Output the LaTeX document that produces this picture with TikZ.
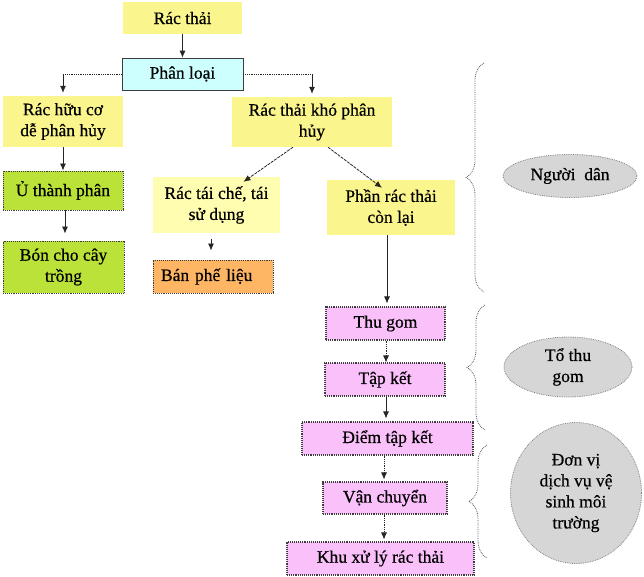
\documentclass[tikz,border=0pt]{standalone}
\usepackage{fontspec}
\setmainfont{Liberation Serif}[FakeBold=0.5]
\usetikzlibrary{arrows.meta,shapes.geometric,decorations.pathreplacing}
\definecolor{ylw}{RGB}{250,245,140}
\definecolor{ylwpale}{RGB}{255,253,175}
\definecolor{cyn}{RGB}{205,255,255}
\definecolor{grn}{RGB}{186,226,56}
\definecolor{org}{RGB}{255,182,100}
\definecolor{pnk}{RGB}{250,192,250}
\definecolor{elg}{RGB}{214,214,214}
\definecolor{edge}{RGB}{60,60,60}
\begin{document}
\begin{tikzpicture}[x=1pt,y=-1pt,
  font=\fontsize{17.5}{21}\selectfont,
  box/.style={rectangle, inner sep=2pt, align=center},
  ybox/.style={box, fill=ylw},
  cbox/.style={box, fill=cyn, draw=edge, line width=0.6pt},
  gbox/.style={box, fill=grn, draw=edge, line width=0.9pt, densely dotted},
  obox/.style={box, fill=org, draw=edge, line width=0.9pt, densely dotted},
  pbox/.style={box, fill=pnk, draw=edge, line width=1.1pt, densely dotted},
  role/.style={ellipse, inner sep=1pt, align=center, fill=elg, draw=gray, line width=0.8pt, densely dotted},
  arr/.style={-{Latex[length=7pt,width=6pt]}, line width=0.8pt, black!85},
  darr/.style={arr, densely dotted},
  dline/.style={line width=0.8pt, black!85, densely dotted},
  diag/.style={arr, dash pattern=on 3pt off 1pt},
  brc/.style={decorate, decoration={brace, mirror, amplitude=18pt}, gray!70!black, line width=0.8pt, densely dotted}
]
\useasboundingbox (0,0) rectangle (644,576);

% boxes
\node[ybox, minimum width=119pt, minimum height=32pt] (racthai) at (182.5,18) {Rác thải};
\node[cbox, minimum width=121pt, minimum height=32pt] (phanloai) at (182.5,74) {Phân loại};
\node[ybox, minimum width=120pt, minimum height=51pt] (huuco) at (63,121.5) {Rác hữu cơ\\dễ phân hủy};
\node[ybox, minimum width=160pt, minimum height=50pt] (khophan) at (312,122) {Rác thải khó phân\\hủy};
\node[gbox, minimum width=120pt, minimum height=39pt] (uthanh) at (63,190.5) {Ủ thành phân};
\node[gbox, minimum width=121pt, minimum height=52pt] (bon) at (63.5,267) {Bón cho cây\\trồng};
\node[box, fill=ylwpale, minimum width=127pt, minimum height=56pt] (taiche) at (216.5,205) {Rác tái chế, tái\\sử dụng};
\node[obox, minimum width=120pt, minimum height=33pt, text width=104pt, align=left] (banphe) at (213,276.5) {Bán phế liệu};
\node[ybox, minimum width=128pt, minimum height=55pt] (phanrac) at (391,207.5) {Phần rác thải\\còn lại};
\node[pbox, minimum width=119pt, minimum height=33pt] (thugom) at (385.5,323.5) {Thu gom};
\node[pbox, minimum width=120pt, minimum height=33pt] (tapket) at (385,379.5) {Tập kết};
\node[pbox, minimum width=171pt, minimum height=33pt] (diem) at (387.5,438.5) {Điểm tập kết};
\node[pbox, minimum width=124pt, minimum height=32pt] (vanchuyen) at (385,498) {Vận chuyển};
\node[pbox, minimum width=187pt, minimum height=33pt] (khuxuly) at (380.5,558.5) {Khu xử lý rác thải};

% role ellipses
\node[role, minimum width=134pt, minimum height=43pt] (nguoidan) at (570,176) {Người\ \ dân};
\node[role, minimum width=128pt, minimum height=60pt] (tothugom) at (568,367) {Tổ thu\\gom};
\node[role, minimum width=131pt, minimum height=141pt] (donvi) at (576,493) {Đơn vị\\dịch vụ vệ\\sinh môi\\trường};

% connectors
\draw[arr] (racthai) -- (phanloai);
\coordinate (cl) at (huuco.north |- phanloai.west);
\coordinate (cr) at (khophan.north |- phanloai.east);
\draw[dline] (phanloai.west) -- (cl);
\draw[dline] (phanloai.east) -- (cr);
\draw[arr, shorten >=3pt] (cl) -- (huuco.north);
\draw[arr, shorten >=3pt] (cr) -- (khophan.north);
\draw[arr] (huuco) -- (uthanh);
\draw[arr, shorten >=7pt] ([xshift=2pt]uthanh.south) -- ([xshift=1.5pt]bon.north);
\draw[diag] ([xshift=-19pt]khophan.south) -- ([xshift=27pt,yshift=-5pt]taiche.north);
\draw[diag] ([xshift=16pt]khophan.south) -- ([xshift=-9pt,yshift=-8pt]phanrac.north);
\draw[arr, shorten >=9pt] ([xshift=-5.5pt,yshift=-6pt]taiche.south) -- ([xshift=-2pt]banphe.north);
\draw[arr, shorten >=3pt] ([xshift=-4pt]phanrac.south) -- ([xshift=1.5pt]thugom.north);
\draw[darr] ([xshift=0.5pt]thugom.south) -- ([xshift=1pt]tapket.north);
\draw[arr, shorten >=3pt] ([xshift=1pt]tapket.south) -- ([xshift=-1.5pt]diem.north);
\draw[darr, shorten >=2pt] ([xshift=-3.5pt]diem.south) -- ([xshift=-1pt]vanchuyen.north);
\draw[darr, shorten >=2pt] ([xshift=-1pt]vanchuyen.south) -- ([xshift=3.5pt]khuxuly.north);

% braces
\coordinate (b1t) at (484,63);
\coordinate (b1b) at (484,292);
\coordinate (b2t) at (485,305);
\coordinate (b2b) at (485,430);
\coordinate (b3t) at (487,445);
\coordinate (b3b) at (487,558);
\draw[brc] (b1t) -- (b1b);
\draw[brc] (b2t) -- (b2b);
\draw[brc] (b3t) -- (b3b);
\end{tikzpicture}
\end{document}
